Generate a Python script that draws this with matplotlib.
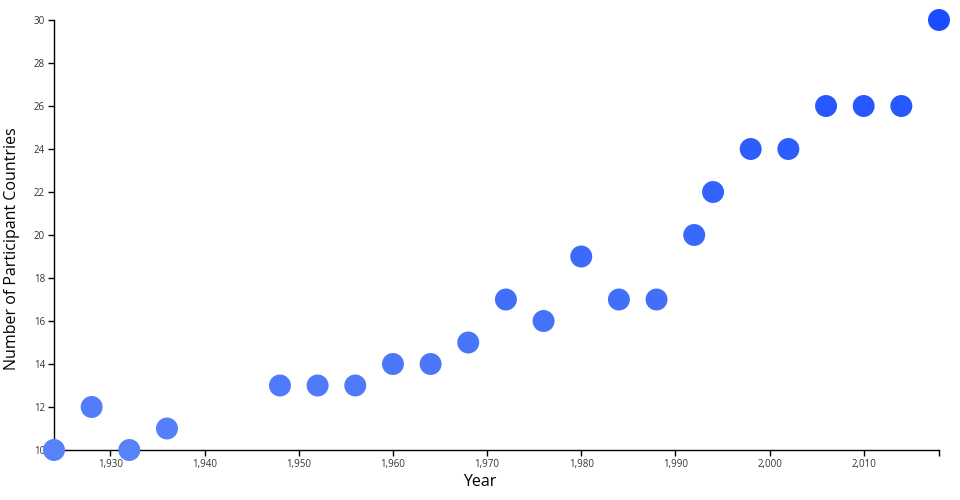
import numpy as np
import matplotlib.pyplot as plt
from matplotlib.colors import to_rgb
from matplotlib.ticker import FuncFormatter, FixedLocator

years = [1924, 1928, 1932, 1936, 1948, 1952, 1956, 1960, 1964, 1968, 1972, 1976,
         1980, 1984, 1988, 1992, 1994, 1998, 2002, 2006, 2010, 2014, 2018]
countries = [10, 12, 10, 11, 13, 13, 13, 14, 14, 15, 17, 16,
             19, 17, 17, 20, 22, 24, 24, 26, 26, 26, 30]

plt.rcParams['font.family'] = ['Open Sans', 'DejaVu Sans']

# colour gets deeper as the count grows
c_lo = np.array(to_rgb('#5882f8'))
c_hi = np.array(to_rgb('#1a4dff'))
t = (np.array(countries) - 10) / 20.
colors = [tuple(c_lo + (c_hi - c_lo) * v) for v in t]

fig = plt.figure(figsize=(9.6, 5.0), dpi=100)
ax = fig.add_axes([54/960, 50/500, (939-54)/960, (450-20)/500])

ax.scatter(years, countries, s=250, c=colors, edgecolors='none', clip_on=False, zorder=3)

ax.set_xlim(1924, 2018)
ax.set_ylim(10, 30)
ax.set_xticks(np.arange(1930, 2011, 10))
ax.set_yticks(np.arange(10, 31, 2))
ax.xaxis.set_minor_locator(FixedLocator([1924, 2018]))
ax.xaxis.set_major_formatter(FuncFormatter(lambda v, p: f'{int(v):,}'))

for s in ['top', 'right']:
    ax.spines[s].set_visible(False)
for s in ['left', 'bottom']:
    ax.spines[s].set_linewidth(1.0)
    ax.spines[s].set_color('black')

ax.tick_params(axis='both', which='major', direction='out', length=4.5, width=1,
               labelsize=7, pad=2, labelcolor='#333333')
ax.tick_params(axis='x', which='minor', direction='out', length=4.5, width=1)

ax.set_xlabel('Year', fontsize=11.5)
ax.set_ylabel('Number of Participant Countries', fontsize=11.5)
# labels sit on the centre of the figure, not of the axes
ax.xaxis.set_label_coords((480 - 54) / 885, -24 / 430)
ax.yaxis.set_label_coords(-(54 - 20) / 885, (450 - 249) / 430)

fig.savefig('out.png', dpi=100)
